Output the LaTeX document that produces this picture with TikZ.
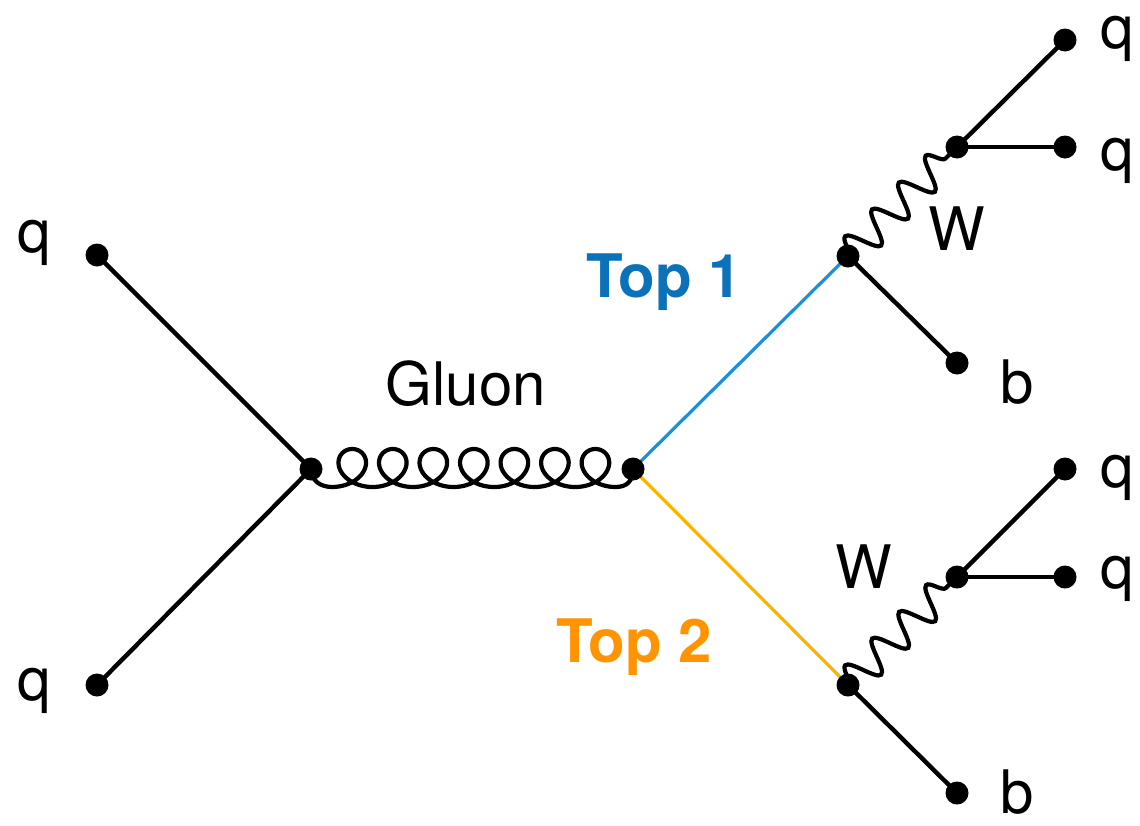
\documentclass[tikz,border=0pt]{standalone}
\usepackage{fontspec}
\setmainfont{TeX Gyre Heros}
\usetikzlibrary{decorations.pathmorphing}
\definecolor{topone}{HTML}{0B72B9}
\definecolor{toponeline}{HTML}{1A8FDB}
\definecolor{toptwo}{HTML}{FF9300}
\definecolor{toptwoline}{HTML}{F7B500}

\begin{document}
\begin{tikzpicture}[x=1pt,y=-1pt,
  fermion/.style={line width=4.4pt},
  topline/.style={line width=3.2pt},
  gluonline/.style={line width=4.2pt,line join=round},
  dot/.style={circle,fill=black,inner sep=0pt,minimum size=23pt},
  lbl/.style={anchor=base,inner sep=0pt,font=\fontsize{60}{60}\selectfont},
  toplbl/.style={lbl,font=\fontsize{60}{60}\selectfont\bfseries},
  wboson/.style={line width=4.2pt,decorate,decoration={snake,amplitude=16pt,
      segment length=38pt}}]

\useasboundingbox (0,0) rectangle (1140,825);

% vertices and external legs
\coordinate (qin1) at (97,255);
\coordinate (qin2) at (97,685);
\coordinate (vg1) at (311,469);
\coordinate (vg2) at (633,469);
\coordinate (t1) at (848,256);
\coordinate (t2) at (848,685);
\coordinate (w1) at (957,147);
\coordinate (w2) at (957,577);
\coordinate (b1) at (957,363);
\coordinate (b2) at (957,793);
\coordinate (q1a) at (1065,40);
\coordinate (q1b) at (1065,147);
\coordinate (q2a) at (1065,469);
\coordinate (q2b) at (1065,577);

% propagators
\draw[fermion] (qin1) -- (vg1);
\draw[fermion] (qin2) -- (vg1);
% gluon: seven curls drawn as a prolate cycloid
\draw[gluonline] (vg1) .. controls (311,481) and (321,487) .. (332,487)
  -- plot[domain=0:14*pi,samples=600,variable=\t]
     ({332+6.45*\t+23*sin(\t r)},{468+19*cos(\t r)})
  .. controls (627,487) and (633,481) .. (vg2);
\draw[topline,toponeline] (vg2) -- (t1);
\draw[topline,toptwoline] (vg2) -- (t2);
\draw[wboson] (t1) -- (w1);
\draw[wboson] (t2) -- (w2);
\draw[fermion] (t1) -- (b1);
\draw[fermion] (t2) -- (b2);
\draw[fermion] (w1) -- (q1a);
\draw[fermion] (w1) -- (q1b);
\draw[fermion] (w2) -- (q2a);
\draw[fermion] (w2) -- (q2b);

% dots
\foreach \p in {qin1,qin2,vg1,vg2,t1,t2,w1,w2,b1,b2,q1a,q1b,q2a,q2b}
  \node[dot] at (\p) {};

% labels
\node[lbl] (lq1) at (34,252) {q};
\node[lbl] (lq2) at (34,700) {q};
\node[lbl] (lg) at (466,405) {Gluon};
\node[toplbl,text=topone] (lt1) at (664,297) {Top 1};
\node[toplbl,text=toptwo] (lt2) at (634,662) {Top 2};
\node[lbl] (lw1) at (957,250) {W};
\node[lbl] (lw2) at (864,588) {W};
\node[lbl] (lb1) at (1017,403) {b};
\node[lbl] (lb2) at (1017,813) {b};
\node[lbl] (lq3) at (1117,48) {q};
\node[lbl] (lq4) at (1117,170) {q};
\node[lbl] (lq5) at (1117,487) {q};
\node[lbl] (lq6) at (1117,588) {q};
\end{tikzpicture}
\end{document}
